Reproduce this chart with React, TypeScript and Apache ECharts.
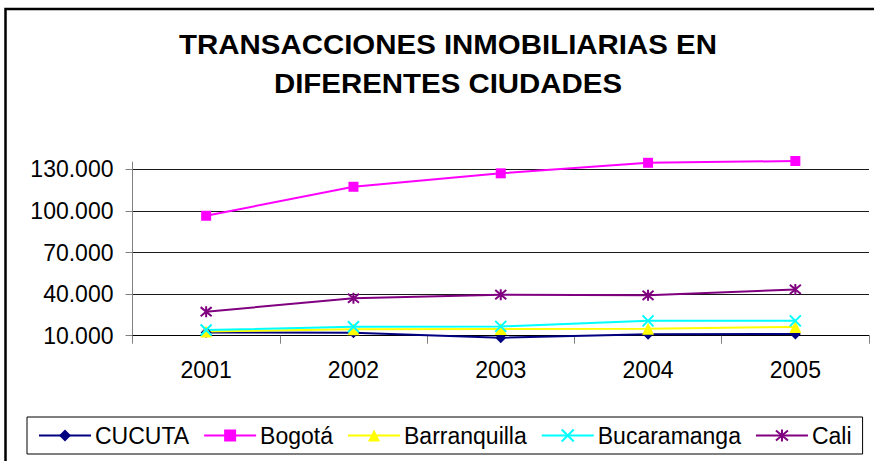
import React, { useEffect, useRef } from "react";
import * as echarts from "echarts";

const years = ["2001", "2002", "2003", "2004", "2005"];
const cucuta = [12300, 12200, 8500, 11000, 11200];
const bogota = [96500, 117400, 127100, 134700, 136000];
const barranquilla = [13000, 14600, 14800, 15000, 16300];
const bucaramanga = [14100, 16500, 16700, 20700, 20700];
const cali = [27300, 37000, 39600, 39100, 43400];
const titleLines = ["TRANSACCIONES INMOBILIARIAS EN", "DIFERENTES CIUDADES"];

const FONT = "Liberation Sans, Arial, sans-serif";

const fmt = (v: number) => String(v).replace(/\B(?=(\d{3})+(?!\d))/g, ".");

export default function App() {
  const ref = useRef<HTMLDivElement>(null);
  useEffect(() => {
    document.body.style.margin = "0";
    const chart = echarts.init(ref.current!, null, { renderer: "svg" });
    const xPath = "path://M0,0L10,10M10,0L0,10";
    const starPath = "path://M0,0L10,10M10,0L0,10M5,-1L5,11";
    const mk = (name: string, data: number[], color: string, symbol: string, size: number, stroke: boolean) => ({
      name,
      type: "line",
      data,
      clip: false,
      symbol,
      symbolSize: size,
      lineStyle: { color, width: 2 },
      itemStyle: stroke
        ? { color, borderColor: color, borderWidth: 2 }
        : { color, borderWidth: 0 },
      emphasis: { disabled: true },
    });
    chart.setOption({
      animation: false,
      graphic: [
        {
          type: "rect",
          shape: { x: 5.5, y: 9, width: 1000, height: 1000 },
          style: { fill: "none", stroke: "#000", lineWidth: 2.5 },
        },
        {
          type: "text",
          x: 448,
          y: 44,
          scaleX: 1.09,
          style: {
            text: titleLines[0],
            textAlign: "center",
            textVerticalAlign: "middle",
            font: `bold 27px ${FONT}`,
            fill: "#000",
          },
        },
        {
          type: "text",
          x: 448,
          y: 83,
          scaleX: 1.09,
          style: {
            text: titleLines[1],
            textAlign: "center",
            textVerticalAlign: "middle",
            font: `bold 27px ${FONT}`,
            fill: "#000",
          },
        },
        {
          type: "line",
          shape: { x1: 132.5, y1: 161.7, x2: 132.5, y2: 170 },
          style: { stroke: "#808080", lineWidth: 1 },
        },
      ],
      grid: { left: 132.5, right: 5, top: 169.3, bottom: 125.3, containLabel: false },
      legend: {
        left: 27,
        top: 417,
        orient: "horizontal",
        padding: [7, 11],
        itemGap: 14,
        itemWidth: 52,
        itemHeight: 15,
        borderColor: "#000",
        borderWidth: 1,
        textStyle: { fontFamily: FONT, fontSize: 23, color: "#000", padding: [0, 0, 0, -1] },
        data: ["CUCUTA", "Bogotá", "Barranquilla", "Bucaramanga", "Cali"],
      },
      xAxis: {
        type: "category",
        data: years,
        boundaryGap: true,
        axisLine: { lineStyle: { color: "#000", width: 1 } },
        axisTick: { show: true, length: 8, lineStyle: { color: "#808080" } },
        axisLabel: { fontFamily: FONT, fontSize: 23, color: "#000", margin: 23 },
        splitLine: { show: false },
      },
      yAxis: {
        type: "value",
        min: 10000,
        max: 130000,
        interval: 30000,
        axisLine: { show: true, lineStyle: { color: "#808080", width: 1 } },
        axisTick: { show: true, length: 7, lineStyle: { color: "#808080" } },
        axisLabel: {
          fontFamily: FONT,
          fontSize: 23,
          color: "#000",
          margin: 19,
          formatter: (v: number) => fmt(v),
        },
        splitLine: { show: true, lineStyle: { color: "#1a1a1a", width: 1 } },
      },
      series: [
        mk("CUCUTA", cucuta, "#000080", "diamond", 11, false),
        mk("Bogotá", bogota, "#FF00FF", "rect", 10, false),
        mk("Barranquilla", barranquilla, "#FFFF00", "triangle", 12, false),
        mk("Bucaramanga", bucaramanga, "#00FFFF", xPath, 11, true),
        mk("Cali", cali, "#800080", starPath, 11, true),
      ],
    });
    return () => chart.dispose();
  }, []);
  return <div ref={ref} style={{ width: 874, height: 461 }} />;
}
